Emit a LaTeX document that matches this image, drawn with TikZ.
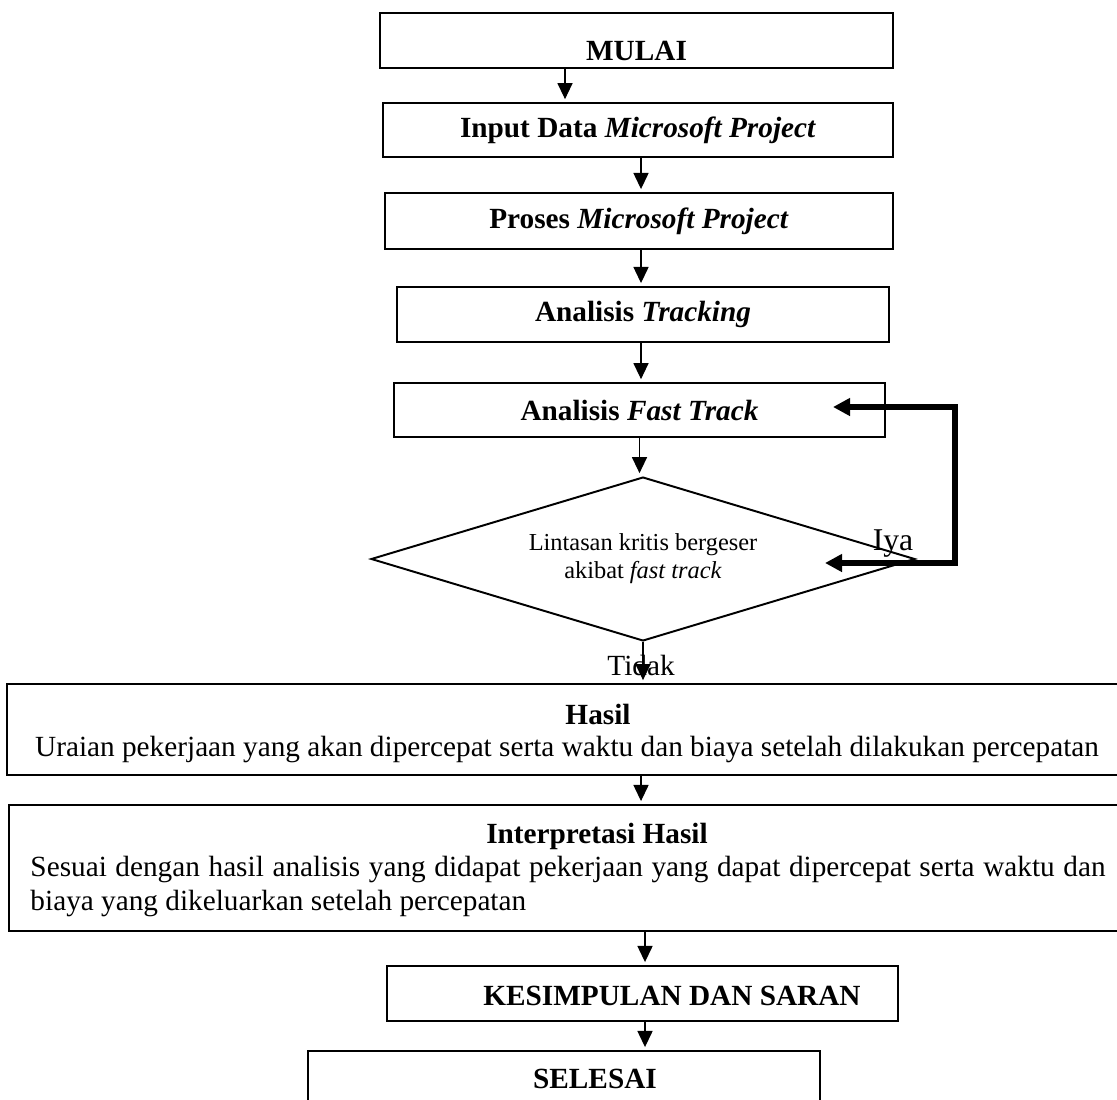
\documentclass[tikz,border=0pt]{standalone}
\usepackage{fontspec}
\setmainfont{Liberation Serif}
\usetikzlibrary{arrows.meta,shapes.geometric}

\tikzset{
  box/.style={draw, line width=0.8pt, inner sep=0pt, font=\fontsize{12}{14}\selectfont\bfseries},
  txt/.style={inner sep=0pt, font=\fontsize{12}{14}\selectfont},
  bold/.style={inner sep=0pt, font=\fontsize{12}{14}\selectfont\bfseries},
  arr/.style={-{Triangle[width=6.2pt,length=6.6pt]}, line width=0.5pt, shorten >=1.2pt},
  backloop/.style={{Triangle[width=7pt,length=7pt]}-{Triangle[width=7pt,length=7pt]}, line width=2.2pt},
}

\begin{document}
\begin{tikzpicture}[x=0.41pt,y=-0.41pt]
\useasboundingbox (0,0) rectangle (1117,1099);

% kotak proses
\node[box, minimum width=210.3pt, minimum height=22.6pt,
      label={[bold,yshift=-4.3pt]center:MULAI}] (mulai) at (636.5,40.5) {};
\node[box, minimum width=209.1pt, minimum height=22.1pt] (input) at (638,130) {Input Data \textit{Microsoft Project}};
\node[box, minimum width=208.3pt, minimum height=23pt] (proses) at (639,221) {Proses \textit{Microsoft Project}};
\node[box, minimum width=201.7pt, minimum height=22.6pt] (tracking) at (643,314.5) {Analisis \textit{Tracking}};
\node[box, minimum width=201.3pt, minimum height=22.1pt] (fast) at (639.5,410) {Analisis \textit{Fast Track}};
\node[draw, diamond, shape aspect=3.3, line width=0.8pt, inner sep=0pt, minimum width=223pt, minimum height=67.2pt,
      align=center, font=\fontsize{10}{11.5}\selectfont] (cek) at (643,559) {Lintasan kritis bergeser\\akibat \textit{fast track}};

\node[box, minimum width=459.2pt, minimum height=37.3pt] (hasil) at (567,729.5) {};
\node[bold] (hasilT) at (598,714) {Hasil};
\node[txt] (hasilB) at (567,749) {Uraian pekerjaan yang akan dipercepat serta waktu dan biaya setelah dilakukan percepatan};

\node[box, minimum width=458.4pt, minimum height=51.7pt] (interp) at (568,868) {};
\node[bold] (interpT) at (597,836) {Interpretasi Hasil};
\node[txt, text width=440.8pt, align=justify, anchor=north west] (interpB) at (30,856)
  {Sesuai dengan hasil analisis yang didapat pekerjaan yang dapat dipercepat serta waktu dan\linebreak biaya yang dikeluarkan setelah percepatan};

\node[box, minimum width=209.5pt, minimum height=22.6pt,
      label={[bold,xshift=12.1pt,yshift=-1pt]center:KESIMPULAN DAN SARAN}] (kes) at (642.5,993.5) {};
\node[box, minimum width=209.9pt, minimum height=22.6pt,
      label={[bold,xshift=12.7pt]center:SELESAI}] (sel) at (564,1078.5) {};

% label keputusan
\node[txt] (tidak) at (641,665) {Tidak};
\node[txt, font=\fontsize{13}{15}\selectfont] (iya) at (893,544) {Iya};

% panah
\coordinate (colA) at (565,0);
\coordinate (colB) at (641,0);
\coordinate (colC) at (645,0);
\draw[arr] (mulai.south -| colA) -- (input.north -| colA);
\draw[arr] (input.south -| colB) -- (proses.north -| colB);
\draw[arr] (proses.south -| colB) -- (tracking.north -| colB);
\draw[arr] (tracking.south -| colB) -- (fast.north -| colB);
\draw[arr] (fast.south) -- (cek.north -| fast.south);
\draw[arr] (cek.south) -- (hasil.north -| cek.south);
\draw[arr] (hasil.south -| colB) -- (interp.north -| colB);
\draw[arr] (interp.south -| colC) -- (kes.north -| colC);
\draw[arr] (kes.south -| colC) -- (sel.north -| colC);

% umpan balik "Iya"
\coordinate (loopTop) at (833,407);
\coordinate (loopCorner) at (955,407);
\coordinate (loopBot) at (825,563);
\draw[backloop] (loopTop) -- (loopCorner) |- (loopBot);
\end{tikzpicture}
\end{document}
